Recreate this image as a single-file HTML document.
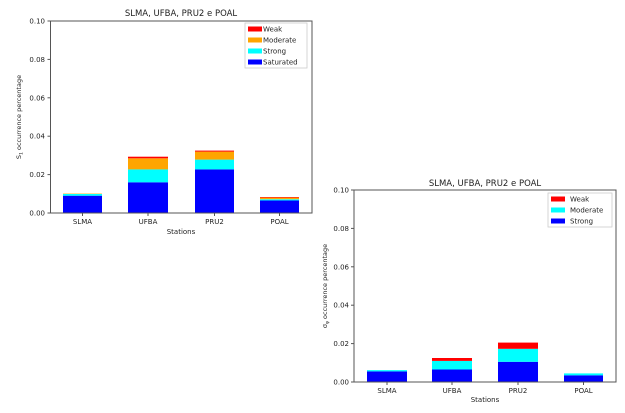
<!DOCTYPE html>
<html><head><meta charset="utf-8"><style>
html,body{margin:0;padding:0;background:#fff;}
svg{display:block;font-family:"DejaVu Sans","Liberation Sans",sans-serif;}
</style></head><body>
<svg width="625" height="413" viewBox="0 0 625 413" xmlns="http://www.w3.org/2000/svg">
<!-- Chart 1 -->
<g>
<text x="181" y="16" font-size="8.5" text-anchor="middle" fill="#222">SLMA, UFBA, PRU2 e POAL</text>
<!-- bars: y = 213 - v*1920 -->
<rect x="63" y="195.7" width="39" height="17.3" fill="#0000ff"/>
<rect x="63" y="194" width="39" height="1.7" fill="#00ffff"/>
<rect x="63" y="193.6" width="39" height="0.4" fill="#ffa500"/>
<rect x="128" y="182.3" width="40" height="30.7" fill="#0000ff"/>
<rect x="128" y="169.4" width="40" height="12.9" fill="#00ffff"/>
<rect x="128" y="158.3" width="40" height="11.1" fill="#ffa500"/>
<rect x="128" y="156.7" width="40" height="1.6" fill="#ff0000"/>
<rect x="195" y="169.4" width="39" height="43.6" fill="#0000ff"/>
<rect x="195" y="159.6" width="39" height="9.8" fill="#00ffff"/>
<rect x="195" y="151.6" width="39" height="8" fill="#ffa500"/>
<rect x="195" y="150.6" width="39" height="1" fill="#ff0000"/>
<rect x="260" y="200.5" width="39" height="12.5" fill="#0000ff"/>
<rect x="260" y="199.2" width="39" height="1.3" fill="#00ffff"/>
<rect x="260" y="197.6" width="39" height="1.6" fill="#ffa500"/>
<rect x="260" y="197" width="39" height="0.6" fill="#ff0000"/>
<rect x="50.5" y="21" width="261.5" height="192" fill="none" stroke="#555" stroke-width="1"/>
<g font-size="7" fill="#222" text-anchor="end">
<text x="45" y="215.5">0.00</text><text x="45" y="177.1">0.02</text><text x="45" y="138.7">0.04</text><text x="45" y="100.3">0.06</text><text x="45" y="61.9">0.08</text><text x="45" y="23.5">0.10</text>
</g>
<g stroke="#555" stroke-width="1">
<line x1="47.5" x2="50.5" y1="213" y2="213"/><line x1="47.5" x2="50.5" y1="174.6" y2="174.6"/><line x1="47.5" x2="50.5" y1="136.2" y2="136.2"/><line x1="47.5" x2="50.5" y1="97.8" y2="97.8"/><line x1="47.5" x2="50.5" y1="59.4" y2="59.4"/><line x1="47.5" x2="50.5" y1="21" y2="21"/>
<line x1="82.5" x2="82.5" y1="213" y2="216"/><line x1="148" x2="148" y1="213" y2="216"/><line x1="214.5" x2="214.5" y1="213" y2="216"/><line x1="279.5" x2="279.5" y1="213" y2="216"/>
</g>
<g font-size="7" fill="#222" text-anchor="middle">
<text x="82.5" y="224">SLMA</text><text x="148" y="224">UFBA</text><text x="214.5" y="224">PRU2</text><text x="279.5" y="224">POAL</text>
<text x="181" y="234">Stations</text>
</g>
<text transform="translate(21,117) rotate(-90)" font-size="6.5" fill="#222" text-anchor="middle">S<tspan font-size="4.5" dy="1.5">1</tspan><tspan dy="-1.5"> occurrence percentage</tspan></text>
<rect x="245" y="23" width="62" height="45" fill="#fff" stroke="#ccc" stroke-width="0.8"/>
<rect x="248" y="26.5" width="14" height="5" fill="#ff0000"/><text x="263" y="31.5" font-size="7" fill="#222">Weak</text>
<rect x="248" y="37.5" width="14" height="5" fill="#ffa500"/><text x="263" y="42.5" font-size="7" fill="#222">Moderate</text>
<rect x="248" y="48.5" width="14" height="5" fill="#00ffff"/><text x="263" y="53.5" font-size="7" fill="#222">Strong</text>
<rect x="248" y="59.5" width="14" height="5" fill="#0000ff"/><text x="263" y="64.5" font-size="7" fill="#222">Saturated</text>
</g>
<!-- Chart 2 -->
<g>
<text x="485" y="186" font-size="8.5" text-anchor="middle" fill="#222">SLMA, UFBA, PRU2 e POAL</text>
<!-- y = 382 - v*1920 -->
<rect x="367" y="371.4" width="40" height="10.6" fill="#0000ff"/>
<rect x="367" y="370.1" width="40" height="1.3" fill="#00ffff"/>
<rect x="432" y="369.5" width="40" height="12.5" fill="#0000ff"/>
<rect x="432" y="360.9" width="40" height="8.6" fill="#00ffff"/>
<rect x="432" y="358" width="40" height="2.9" fill="#ff0000"/>
<rect x="498" y="361.8" width="40" height="20.2" fill="#0000ff"/>
<rect x="498" y="348.8" width="40" height="13" fill="#00ffff"/>
<rect x="498" y="342.6" width="40" height="6.2" fill="#ff0000"/>
<rect x="564" y="375.3" width="39" height="6.7" fill="#0000ff"/>
<rect x="564" y="373.4" width="39" height="1.9" fill="#00ffff"/>
<rect x="354" y="190" width="262" height="192" fill="none" stroke="#555" stroke-width="1"/>
<g font-size="7" fill="#222" text-anchor="end">
<text x="349" y="384.5">0.00</text><text x="349" y="346.1">0.02</text><text x="349" y="307.7">0.04</text><text x="349" y="269.3">0.06</text><text x="349" y="230.9">0.08</text><text x="349" y="192.5">0.10</text>
</g>
<g stroke="#555" stroke-width="1">
<line x1="351" x2="354" y1="382" y2="382"/><line x1="351" x2="354" y1="343.6" y2="343.6"/><line x1="351" x2="354" y1="305.2" y2="305.2"/><line x1="351" x2="354" y1="266.8" y2="266.8"/><line x1="351" x2="354" y1="228.4" y2="228.4"/><line x1="351" x2="354" y1="190" y2="190"/>
<line x1="387" x2="387" y1="382" y2="385"/><line x1="452" x2="452" y1="382" y2="385"/><line x1="518" x2="518" y1="382" y2="385"/><line x1="583.5" x2="583.5" y1="382" y2="385"/>
</g>
<g font-size="7" fill="#222" text-anchor="middle">
<text x="387" y="393">SLMA</text><text x="452" y="393">UFBA</text><text x="518" y="393">PRU2</text><text x="583.5" y="393">POAL</text>
<text x="485" y="402">Stations</text>
</g>
<text transform="translate(327,286) rotate(-90)" font-size="6.5" fill="#222" text-anchor="middle">σ<tspan font-size="4.5" dy="1.5">φ</tspan><tspan dy="-1.5"> occurrence percentage</tspan></text>
<rect x="548" y="193" width="64" height="34" fill="#fff" stroke="#ccc" stroke-width="0.8"/>
<rect x="551" y="196.5" width="14" height="5" fill="#ff0000"/><text x="570" y="201.5" font-size="7" fill="#222">Weak</text>
<rect x="551" y="207.5" width="14" height="5" fill="#00ffff"/><text x="570" y="212.5" font-size="7" fill="#222">Moderate</text>
<rect x="551" y="218.5" width="14" height="5" fill="#0000ff"/><text x="570" y="223.5" font-size="7" fill="#222">Strong</text>
</g>
</svg>
</body></html>
